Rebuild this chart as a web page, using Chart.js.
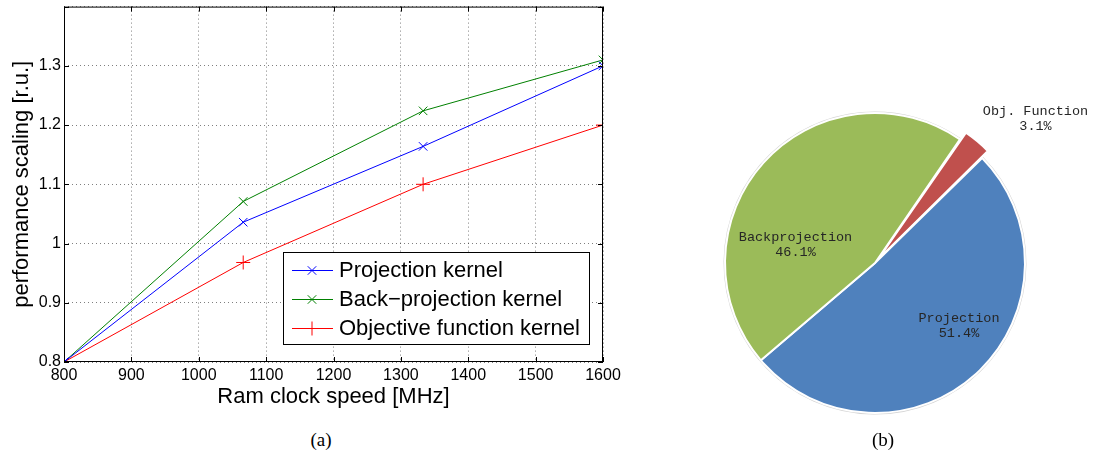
<!DOCTYPE html>
<html>
<head>
<meta charset="utf-8">
<script src="https://cdn.jsdelivr.net/npm/chart.js@4.4.0/dist/chart.umd.min.js"></script>
<style>
body { margin: 0; background: #fff; width: 1093px; height: 465px; position: relative; overflow: hidden; }
#lineWrap { position: absolute; left: 0; top: -6px; width: 640px; height: 418px; }
#pieWrap { position: absolute; left: 665px; top: 63px; width: 428px; height: 400px; }
.cap { position: absolute; top: 429px; font: 19px "Liberation Serif", serif; transform: translateX(-50%); }
</style>
</head>
<body>
<div id="lineWrap"><canvas id="lineChart"></canvas></div>
<div id="pieWrap"><canvas id="pieChart"></canvas></div>
<div class="cap" style="left:321px">(a)</div>
<div class="cap" style="left:883px">(b)</div>
<script>
// (a) scaling vs ram clock
const clockSpeeds = [800, 1066, 1333, 1600];
const projection = [0.8, 1.036, 1.164, 1.30];
const backProjection = [0.8, 1.071, 1.224, 1.31];
const objective = [0.8, 0.968, 1.10, 1.20];
const seriesNames = ['Projection kernel', 'Back\u2212projection kernel', 'Objective function kernel'];

// (b) runtime share
const pieLabels = ['Obj. Function', 'Projection', 'Backprojection'];
const pieShares = [3.1, 51.4, 46.1];

const sans = '"Liberation Sans", Arial, sans-serif';
const mono = '"Liberation Mono", "Courier New", monospace';

const toPoints = (ys) => clockSpeeds.map((x, i) => ({ x: x, y: ys[i] }));

// frame round the plot with matlab style inward ticks
const framePlugin = {
    id: 'frame',
    afterDraw(chart) {
        const ctx = chart.ctx;
        const a = chart.chartArea;
        const xs = chart.scales.x;
        const ys = chart.scales.y;
        ctx.save();
        ctx.strokeStyle = '#000';
        ctx.lineWidth = 1;
        ctx.strokeRect(a.left + 0.5, a.top + 0.5, a.right - a.left - 1, a.bottom - a.top - 1);
        ctx.beginPath();
        xs.ticks.forEach(t => {
            const px = Math.round(xs.getPixelForValue(t.value)) + 0.5;
            ctx.moveTo(px, a.bottom); ctx.lineTo(px, a.bottom - 5);
            ctx.moveTo(px, a.top); ctx.lineTo(px, a.top + 5);
        });
        ys.ticks.forEach(t => {
            const py = Math.round(ys.getPixelForValue(t.value)) + 0.5;
            ctx.moveTo(a.left, py); ctx.lineTo(a.left + 5, py);
            ctx.moveTo(a.right, py); ctx.lineTo(a.right - 5, py);
        });
        ctx.stroke();

        // legend box, bottom right inside the plot
        const w = 306, h = 92;
        const bx = a.right - 14 - w, by = a.bottom - 18 - h;
        ctx.fillStyle = '#fff';
        ctx.fillRect(bx, by, w, h);
        ctx.strokeRect(bx + 0.5, by + 0.5, w, h);
        ctx.font = '22px ' + sans;
        ctx.textBaseline = 'middle';
        chart.data.datasets.forEach((ds, i) => {
            const cy = by + 18 + i * 29;
            ctx.strokeStyle = ds.borderColor;
            ctx.lineWidth = 1;
            ctx.beginPath();
            ctx.moveTo(bx + 9, cy + 0.5); ctx.lineTo(bx + 50, cy + 0.5);
            ctx.stroke();
            Chart.helpers.drawPoint(ctx, { pointStyle: ds.pointStyle, radius: ds.pointRadius, borderWidth: 1, rotation: 0 }, bx + 29, cy + 0.5);
            ctx.fillStyle = '#000';
            ctx.fillText(ds.label, bx + 56, cy + 1);
        });
        ctx.restore();
    }
};

new Chart(document.getElementById('lineChart').getContext('2d'), {
    type: 'line',
    data: {
        datasets: [{
            label: seriesNames[0],
            data: toPoints(projection),
            borderColor: '#0000ff',
            pointStyle: 'crossRot',
            pointRadius: 6
        }, {
            label: seriesNames[1],
            data: toPoints(backProjection),
            borderColor: '#008000',
            pointStyle: 'crossRot',
            pointRadius: 6
        }, {
            label: seriesNames[2],
            data: toPoints(objective),
            borderColor: '#ff0000',
            pointStyle: 'cross',
            pointRadius: 7
        }]
    },
    options: {
        responsive: true,
        maintainAspectRatio: false,
        animation: false,
        elements: {
            line: { borderWidth: 1, tension: 0 },
            point: { borderWidth: 1, hoverRadius: 6 }
        },
        layout: { padding: { top: 0, right: 37, left: 0, bottom: 0 } },
        plugins: { legend: { display: false }, tooltip: { enabled: false } },
        scales: {
            x: {
                type: 'linear',
                min: 800,
                max: 1600,
                ticks: { stepSize: 100, padding: 4, color: '#000', font: { family: sans, size: 16 }, callback: (v) => String(v) },
                grid: { drawTicks: false, color: 'rgba(0,0,0,0.5)' },
                border: { display: false, dash: [1, 3] },
                title: { display: true, text: 'Ram clock speed [MHz]', color: '#000', font: { family: sans, size: 22 }, padding: { top: 0, bottom: 2 } },
                afterFit: (s) => { s.height = 50; }
            },
            y: {
                min: 0.8,
                max: 1.4,
                ticks: {
                    stepSize: 0.1,
                    padding: 3,
                    color: '#000',
                    font: { family: sans, size: 16 },
                    callback: (v) => (v > 1.35 ? '' : String(parseFloat(v.toFixed(1))))
                },
                grid: { drawTicks: false, color: 'rgba(0,0,0,0.5)' },
                border: { display: false, dash: [1, 3] },
                title: { display: true, text: 'performance scaling [r.u.]', color: '#000', font: { family: sans, size: 22 }, padding: { top: 9, bottom: 0 } },
                afterFit: (s) => { s.width = 64; }
            }
        }
    },
    plugins: [framePlugin]
});

// slice labels, placed relative to pie centre in radius units
const labelSpots = [[1.07, -0.96], [0.56, 0.42], [-0.53, -0.12]];

const pieLabelPlugin = {
    id: 'pieLabels',
    beforeDatasetsDraw(chart) {
        // faint grey rim along the two big slices
        const arcs = chart.getDatasetMeta(0).data;
        const ctx = chart.ctx;
        ctx.save();
        ctx.strokeStyle = '#d4d4d4';
        ctx.lineWidth = 2;
        ctx.beginPath();
        ctx.arc(arcs[1].x, arcs[1].y, arcs[1].outerRadius + 0.5, arcs[1].startAngle, arcs[2].endAngle);
        ctx.stroke();
        ctx.restore();
    },
    afterDraw(chart) {
        const ctx = chart.ctx;
        const arcs = chart.getDatasetMeta(0).data;
        ctx.save();
        ctx.font = '13.5px ' + mono;
        ctx.fillStyle = '#262626';
        ctx.textAlign = 'center';
        ctx.textBaseline = 'middle';
        arcs.forEach((arc, i) => {
            const r = arc.outerRadius;
            const x = arc.x + labelSpots[i][0] * r;
            const y = arc.y + labelSpots[i][1] * r;
            ctx.fillText(pieLabels[i], x, y - 7.5);
            ctx.fillText(pieShares[i].toFixed(1) + '%', x, y + 7.5);
        });
        ctx.restore();
    }
};

new Chart(document.getElementById('pieChart').getContext('2d'), {
    type: 'pie',
    data: {
        labels: pieLabels,
        datasets: [{
            data: pieShares,
            backgroundColor: ['#c0504d', '#4f81bd', '#9bbb59'],
            borderColor: '#ffffff',
            borderWidth: 2,
            offset: [20, 0, 0]
        }]
    },
    options: {
        responsive: true,
        maintainAspectRatio: false,
        animation: false,
        radius: 150,
        rotation: 34.5,
        layout: { padding: { right: 8 } },
        plugins: { legend: { display: false }, tooltip: { enabled: false } }
    },
    plugins: [pieLabelPlugin]
});
</script>
</body>
</html>
